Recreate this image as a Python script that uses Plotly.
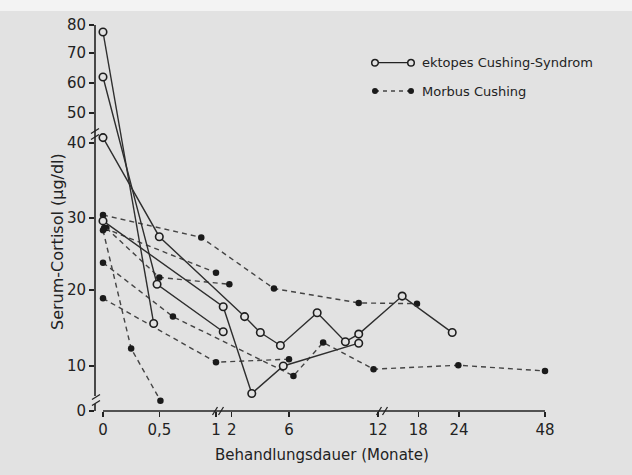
import numpy as np
import plotly.graph_objects as go

# ---------------- data (months after start of treatment, serum cortisol µg/dl)
x_tick_months = [0, 0.5, 1, 2, 6, 12, 18, 24, 48]
x_tick_labels = ["0", "0,5", "1", "2", "6", "12", "18", "24", "48"]
y_tick_values = [0, 10, 20, 30, 40, 50, 60, 70, 80]
y_tick_labels = ["0", "10", "20", "30", "40", "50", "60", "70", "80"]

# ektopes Cushing-Syndrom (open circles, solid lines)
ect1_months = [0, 0.45]
ect1_values = [77.5, 15.6]
ect2_months = [0, 0.48, 1.46]
ect2_values = [62, 20.8, 14.5]
ect3_months = [0, 0.5, 2.9, 4.0, 5.4, 7.9, 9.8, 10.7, 15.6, 23.0]
ect3_values = [41.8, 27.4, 16.5, 14.4, 12.7, 17.0, 13.2, 14.2, 19.2, 14.4]
ect4_months = [0, 1.46, 3.4, 5.6, 10.7]
ect4_values = [29.6, 17.8, 3.9, 10.0, 13.0]

# Morbus Cushing (filled dots, dashed lines)
mc1_months = [0.0, 0.25, 0.51]
mc1_values = [28.3, 12.3, 2.3]
mc2_months = [0, 1.0, 6.0]
mc2_values = [18.9, 10.5, 10.9]
mc3_months = [0, 0.62, 6.3, 8.3, 11.7, 23.9, 48]
mc3_values = [23.8, 16.5, 7.8, 13.1, 9.3, 10.1, 8.9]
mc4_months = [0, 0.87, 4.95, 10.7, 17.8]
mc4_values = [30.4, 27.3, 20.2, 18.3, 18.2]
mc5_months = [0.03, 0.5, 1.85]
mc5_values = [28.6, 21.75, 20.8]
mc6_months = [0.01, 1.0]
mc6_values = [28.6, 22.4]

ectopic = [(ect1_months, ect1_values), (ect2_months, ect2_values),
           (ect3_months, ect3_values), (ect4_months, ect4_values)]
morbus = [(mc1_months, mc1_values), (mc2_months, mc2_values), (mc3_months, mc3_values),
          (mc4_months, mc4_values), (mc5_months, mc5_values), (mc6_months, mc6_values)]

# ---------------- broken-axis scales (piecewise, as drawn in the original)
X_AXIS_POS = [0, 56.3, 113, 128.7, 186, 275, 315.3, 356, 442]
Y_AXIS_POS = [0, 45, 121, 193, 268, 298, 328, 358, 386]


def xs(m):
    return np.interp(m, x_tick_months, X_AXIS_POS)


def ys(v):
    return np.interp(v, y_tick_values, Y_AXIS_POS)


BG = "#e2e2e2"
INK = "#222222"
FONT = "DejaVu Sans"

L, T, W, H = 95, 20, 460, 391
FW, FH = 632, 475


def xp(px):
    return (px - L) / W


def yp(py):
    return (T + H - py) / H


fig = go.Figure()

for m, v in morbus:
    fig.add_trace(go.Scatter(
        x=xs(m), y=ys(v), mode="lines+markers", showlegend=False,
        line=dict(color="#444444", width=1.4, dash="5px,4px"),
        marker=dict(symbol="circle", size=6.5, color="#1a1a1a"),
        cliponaxis=False))

for m, v in ectopic:
    fig.add_trace(go.Scatter(
        x=xs(m), y=ys(v), mode="lines+markers", showlegend=False,
        line=dict(color="#2e2e2e", width=1.4),
        marker=dict(symbol="circle", size=7.5, color=BG,
                    line=dict(color="#1e1e1e", width=1.6)),
        cliponaxis=False))

shapes = []
# white scan border at top
shapes.append(dict(type="rect", xref="paper", yref="paper", layer="below",
                   x0=xp(0), x1=xp(FW), y0=yp(11), y1=yp(0),
                   fillcolor="#f3f3f3", line=dict(width=0)))


def seg(x0, y0, x1, y1, w=1.5, dash=None, color=INK):
    d = dict(type="line", xref="paper", yref="paper",
             x0=xp(x0), y0=yp(y0), x1=xp(x1), y1=yp(y1),
             line=dict(color=color, width=w))
    if dash:
        d["line"]["dash"] = dash
    shapes.append(d)


# axis lines
seg(103, 411, 545, 411, w=1.6)
seg(95, 25, 95, 396, w=1.6)
seg(95, 404, 95, 411, w=1.6)
# axis breaks
for bx in (215, 221, 379, 385):
    seg(bx - 2.5, 415, bx + 2.5, 407, w=1.3)
for by in (131, 137):
    seg(91, by + 2.5, 99, by - 2.5, w=1.3)
for by in (397, 403):
    seg(92, by + 2.5, 100, by - 2.5, w=1.3)

# legend
seg(375, 62.7, 411, 62.7, w=1.3)
seg(375, 91, 411, 91, w=1.3, dash="4px,4px", color="#444444")


def dot(cx, cy, r, fill, lw):
    shapes.append(dict(type="circle", xref="paper", yref="paper",
                       x0=xp(cx - r), x1=xp(cx + r), y0=yp(cy + r), y1=yp(cy - r),
                       fillcolor=fill, line=dict(color="#1e1e1e", width=lw)))


dot(375, 62.7, 3.3, BG, 1.5)
dot(411, 62.7, 3.3, BG, 1.5)
dot(375, 91, 3.0, "#1a1a1a", 0)
dot(411, 91, 3.0, "#1a1a1a", 0)

annotations = [
    dict(text="ektopes Cushing-Syndrom", xref="paper", yref="paper",
         x=xp(420), y=yp(62.7), xanchor="left", yanchor="middle", showarrow=False,
         font=dict(family=FONT, size=13, color=INK)),
    dict(text="Morbus Cushing", xref="paper", yref="paper",
         x=xp(420), y=yp(91), xanchor="left", yanchor="middle", showarrow=False,
         font=dict(family=FONT, size=13, color=INK)),
    dict(text="Behandlungsdauer (Monate)", xref="paper", yref="paper",
         x=xp(322), y=yp(455), xanchor="center", yanchor="middle", showarrow=False,
         font=dict(family=FONT, size=15, color=INK)),
    dict(text="Serum-Cortisol (µg/dl)", xref="paper", yref="paper",
         x=xp(57), y=yp(242), xanchor="center", yanchor="middle", showarrow=False,
         textangle=-90, font=dict(family=FONT, size=16, color=INK)),
]

fig.update_layout(
    width=FW, height=FH,
    margin=dict(l=L, r=FW - L - W, t=T, b=FH - T - H, pad=0),
    paper_bgcolor=BG, plot_bgcolor=BG,
    shapes=shapes, annotations=annotations,
    showlegend=False,
    xaxis=dict(range=[-8, 452], showgrid=False, zeroline=False, showline=False,
               tickmode="array", tickvals=list(xs(x_tick_months)), ticktext=x_tick_labels,
               ticks="outside", ticklen=5, tickwidth=1.3, tickcolor=INK,
               tickfont=dict(family=FONT, size=15, color=INK), fixedrange=True),
    yaxis=dict(range=[0, 391], showgrid=False, zeroline=False, showline=False,
               tickmode="array", tickvals=list(ys(y_tick_values)), ticktext=y_tick_labels,
               ticks="outside", ticklen=5, tickwidth=1.3, tickcolor=INK,
               tickfont=dict(family=FONT, size=15, color=INK), fixedrange=True),
)

fig.write_html(
    "out.html",
    config={"displayModeBar": False, "staticPlot": True},
    post_script="document.body.style.margin='0';document.body.style.overflow='hidden';",
)
